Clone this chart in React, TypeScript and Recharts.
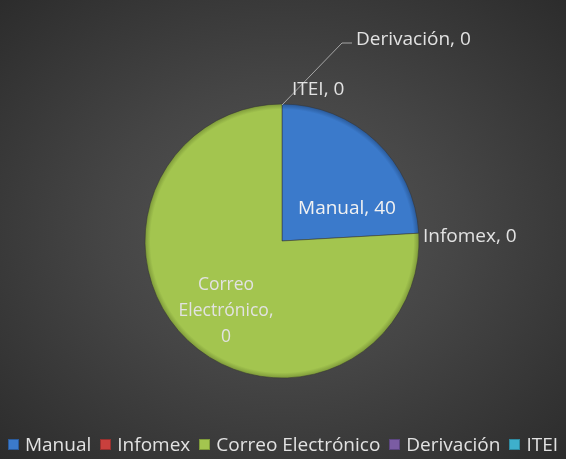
import { Cell, Legend, Pie, PieChart } from 'recharts';

// Slice sizes as drawn; the printed labels in the source read 0 for all but Manual.
const categories = ['Manual', 'Infomex', 'Correo Electrónico', 'Derivación', 'ITEI'];
const sliceValues = [40, 0, 126, 0, 0];
const labelValues = [40, 0, 0, 0, 0];

const colors = ['#3b7acb', '#c9403d', '#a3c54f', '#7b5ca3', '#3eb0cc'];
const edgeColors = ['#2a5a9a', '#97302e', '#7e9a3a', '#5c4580', '#2e8aa0'];

const data = categories.map((name, i) => ({ name, value: sliceValues[i], label: labelValues[i] }));

const FONT = '"Open Sans", sans-serif';
const TEXT = '#e2e2e2';
const CX = 282;
const CY = 241;
const R = 137;

const renderLabel = (props: any) => {
  const { cx, cy, index } = props;
  const d = data[index];
  const txt = `${d.name}, ${d.label}`;
  const common = { fill: TEXT, fontSize: 19, fontFamily: FONT, dominantBaseline: 'central' as const };
  if (index === 0) {
    return (
      <text x={cx + 65} y={cy - 34} textAnchor="middle" {...common} fill="#f2f2f2">
        {txt}
      </text>
    );
  }
  if (index === 1) {
    return (
      <text x={cx + 141} y={cy - 6} textAnchor="start" {...common}>
        {txt}
      </text>
    );
  }
  if (index === 2) {
    return (
      <text x={cx - 56} textAnchor="middle" {...common} fontSize={17.5}>
        <tspan x={cx - 56} y={cy + 42}>Correo</tspan>
        <tspan x={cx - 56} y={cy + 68}>Electrónico,</tspan>
        <tspan x={cx - 56} y={cy + 94}>{d.label}</tspan>
      </text>
    );
  }
  if (index === 3) {
    return (
      <g>
        <polyline
          points={`${cx},${cy - 136} ${cx + 60},${cy - 198} ${cx + 70},${cy - 198}`}
          fill="none"
          stroke="#a6a6a6"
          strokeWidth={1}
        />
        <text x={cx + 74} y={cy - 203} textAnchor="start" {...common}>
          {txt}
        </text>
      </g>
    );
  }
  return (
    <text x={cx + 10} y={cy - 153} textAnchor="start" {...common}>
      {txt}
    </text>
  );
};

const renderLegend = () => (
  <div
    style={{
      display: 'flex',
      justifyContent: 'center',
      alignItems: 'center',
      gap: 9,
      fontFamily: FONT,
      fontSize: 19,
      color: TEXT,
    }}
  >
    {categories.map((c, i) => (
      <span key={c} style={{ display: 'flex', alignItems: 'center', gap: 6 }}>
        <span
          style={{
            width: 9,
            height: 9,
            background: colors[i],
            border: `1px solid ${edgeColors[i]}`,
            display: 'inline-block',
          }}
        />
        {c}
      </span>
    ))}
  </div>
);

export default function App() {
  return (
    <div
      style={{
        position: 'fixed',
        left: 0,
        top: 0,
        width: 566,
        height: 459,
        background: 'radial-gradient(ellipse at 50% 50%, #575757 0%, #454545 45%, #2c2c2c 100%)',
      }}
    >
      <PieChart width={566} height={459} margin={{ top: 0, right: 0, bottom: 0, left: 0 }}>
        <defs>
          {colors.map((c, i) => (
            <radialGradient key={i} id={`slice${i}`} gradientUnits="userSpaceOnUse" cx={CX} cy={CY} r={R}>
              <stop offset="0%" stopColor={c} />
              <stop offset="91%" stopColor={c} />
              <stop offset="96%" stopColor={c} />
              <stop offset="100%" stopColor={edgeColors[i]} />
            </radialGradient>
          ))}
        </defs>
        <Pie
          data={data}
          dataKey="value"
          nameKey="name"
          cx={CX}
          cy={CY}
          outerRadius={R}
          startAngle={90}
          endAngle={-270}
          label={renderLabel}
          labelLine={false}
          isAnimationActive={false}
          stroke="#333"
          strokeWidth={0.5}
        >
          {data.map((d, i) => (
            <Cell key={d.name} fill={`url(#slice${i})`} />
          ))}
        </Pie>
        <Legend
          content={renderLegend}
          verticalAlign="bottom"
          wrapperStyle={{ left: 0, bottom: 2, width: 566 }}
        />
      </PieChart>
    </div>
  );
}
